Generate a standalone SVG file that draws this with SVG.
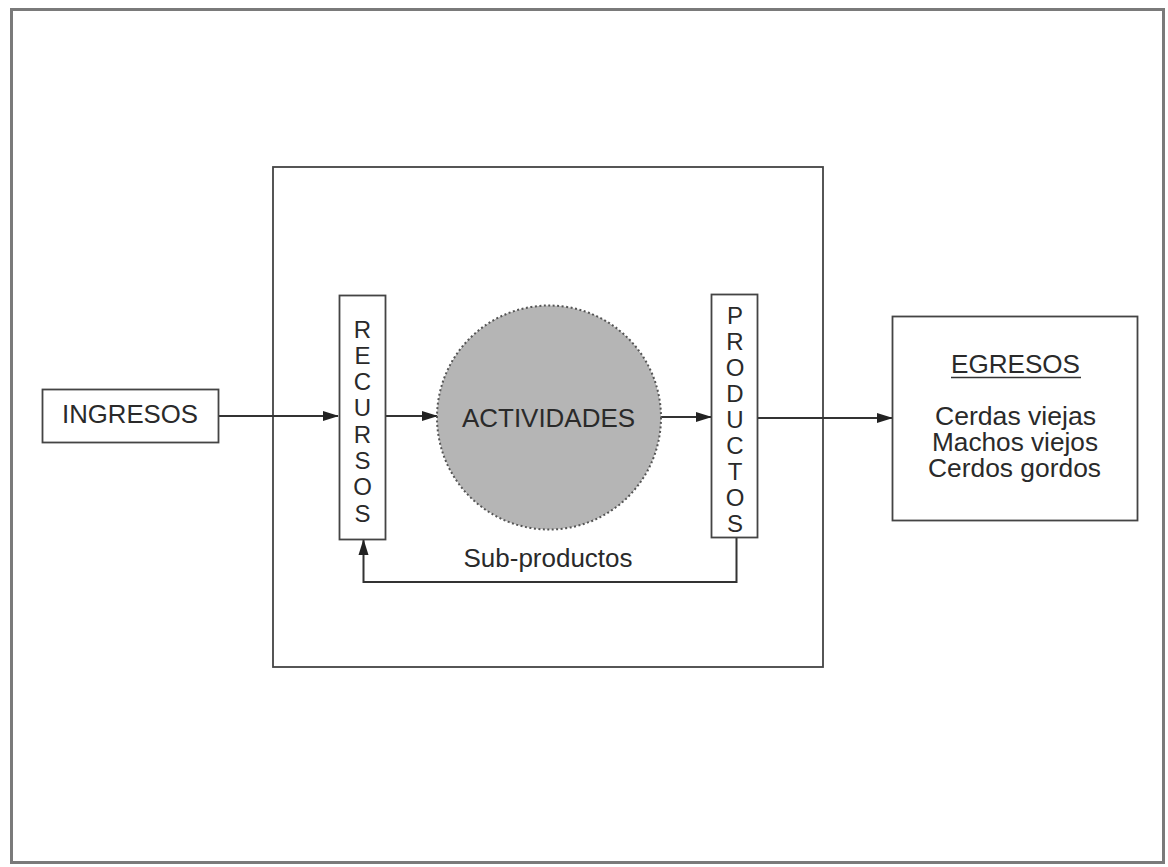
<svg xmlns="http://www.w3.org/2000/svg" width="1168" height="867" viewBox="0 0 1168 867">
<style>
.box{fill:#fff;stroke:#444;stroke-width:1.8}
.ln{fill:none;stroke:#333;stroke-width:2}
.t{font-family:"Liberation Sans",Arial,sans-serif;fill:#2a2a2a;text-anchor:middle}
</style>
<defs>
<marker id="ah" markerWidth="16" markerHeight="12" refX="15" refY="6" orient="auto" markerUnits="userSpaceOnUse">
<path d="M0,1 L16,6 L0,11 Z" fill="#222"/>
</marker>
</defs>
<rect width="1168" height="867" fill="#fff"/>
<rect id="frame" x="11.5" y="9.5" width="1152" height="853" fill="none" stroke="#7a7a7a" stroke-width="3"/>
<g id="system"><rect class="box" x="273" y="167" width="550" height="500" stroke-width="1.5"/></g>
<g id="connectors">
<line class="ln" x1="219" y1="416" x2="338" y2="416" marker-end="url(#ah)"/>
<line class="ln" x1="385" y1="416" x2="437" y2="416" marker-end="url(#ah)"/>
<line class="ln" x1="661" y1="417" x2="711" y2="417" marker-end="url(#ah)"/>
<line class="ln" x1="757" y1="418" x2="892" y2="418" marker-end="url(#ah)"/>
<path class="ln" d="M736.5,538 V582 H363.5 V540" marker-end="url(#ah)"/>
</g>
<g id="ingresos">
<rect class="box" x="42.5" y="389.5" width="176" height="53"/>
<text class="t" x="130" y="423" font-size="25" textLength="136" lengthAdjust="spacingAndGlyphs">INGRESOS</text>
</g>
<g id="recursos">
<rect class="box" x="339.5" y="295.5" width="46" height="244"/>
<text class="t" font-size="24">
<tspan x="362.5" y="337.5">R</tspan><tspan x="362.5" y="363.8">E</tspan><tspan x="362.5" y="390.1">C</tspan><tspan x="362.5" y="416.4">U</tspan><tspan x="362.5" y="442.7">R</tspan><tspan x="362.5" y="469">S</tspan><tspan x="362.5" y="495.3">O</tspan><tspan x="362.5" y="521.6">S</tspan>
</text>
</g>
<g id="actividades">
<circle cx="549" cy="417.5" r="112" fill="#b5b5b5" stroke="#555" stroke-width="2" stroke-dasharray="2 2.5"/>
<text class="t" x="548.5" y="427" font-size="25" fill="#1e1e1e" textLength="173" lengthAdjust="spacingAndGlyphs">ACTIVIDADES</text>
</g>
<g id="productos">
<rect class="box" x="711.5" y="294.5" width="46" height="243"/>
<text class="t" font-size="24">
<tspan x="735" y="324">P</tspan><tspan x="735" y="350">R</tspan><tspan x="735" y="376">O</tspan><tspan x="735" y="402">D</tspan><tspan x="735" y="428">U</tspan><tspan x="735" y="454">C</tspan><tspan x="735" y="480">T</tspan><tspan x="735" y="506">O</tspan><tspan x="735" y="532">S</tspan>
</text>
</g>
<g id="subproductos"><text class="t" x="548" y="567" font-size="25" textLength="169" lengthAdjust="spacingAndGlyphs">Sub-productos</text></g>
<g id="egresos">
<rect class="box" x="892.5" y="316.5" width="245" height="204"/>
<text class="t" x="1015.5" y="373" font-size="25" textLength="129" lengthAdjust="spacingAndGlyphs">EGRESOS</text>
<line x1="951" y1="377.5" x2="1081" y2="377.5" stroke="#333" stroke-width="1.5"/>
<text class="t" x="1015.5" y="425" font-size="25" textLength="161" lengthAdjust="spacingAndGlyphs">Cerdas viejas</text>
<text class="t" x="1015" y="451" font-size="25" textLength="166" lengthAdjust="spacingAndGlyphs">Machos viejos</text>
<text class="t" x="1014.5" y="477" font-size="25" textLength="173" lengthAdjust="spacingAndGlyphs">Cerdos gordos</text>
</g>
</svg>
